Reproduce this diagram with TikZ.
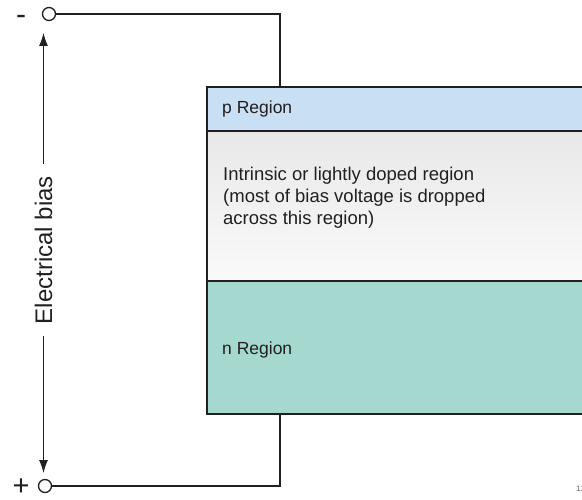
\documentclass[tikz,border=0pt]{standalone}
\usepackage{fontspec}
\setmainfont{Liberation Sans}
\usetikzlibrary{arrows.meta}
\definecolor{pblue}{HTML}{C9DFF3}
\definecolor{nteal}{HTML}{A5D9D0}
\definecolor{ink}{HTML}{231F20}
\begin{document}
\begin{tikzpicture}[x=1pt,y=-1pt,>={Latex[length=13pt,width=9pt]},
  region/.style={draw=ink,line width=2pt,anchor=north west,minimum width=420pt,inner sep=0pt},
  term/.style={circle,draw=ink,line width=1.3pt,minimum size=13pt,inner sep=0pt,fill=white},
  wire/.style={draw=ink,line width=1.6pt},
  lbl/.style={text=ink,font=\fontsize{17.5}{22}\selectfont,anchor=west,align=left,inner sep=0pt}]
\useasboundingbox (0,0) rectangle (582,500);
\clip (0,0) rectangle (582,500);
% device layers
\node[region,fill=pblue,minimum height=44pt] (preg) at (206,86) {};
\node[region,top color=black!9,bottom color=black!2,minimum height=150pt] (ireg) at (206,130) {};
\node[region,fill=nteal,minimum height=133pt] (nreg) at (206,280) {};
\node[lbl] (ptext) at (222,109) {p Region};
\node[lbl,font=\fontsize{18.5}{22}\selectfont] (itext) at (223,198) {Intrinsic or lightly doped region\\(most of bias voltage is dropped\\across this region)};
\node[lbl] (ntext) at (222,350) {n Region};
% terminals and wires
\node[term] (tneg) at (49,14) {};
\node[term] (tpos) at (45,486) {};
\node[text=ink,font=\fontsize{30}{30}\selectfont] (minus) at (21,20) {-};
\node[text=ink,font=\fontsize{29}{29}\selectfont] (plus) at (21,487) {+};
\coordinate (ctop) at (280,86); \coordinate (cbot) at (280,413);
\draw[wire] (tneg.east) -| (ctop);
\draw[wire] (tpos.east) -| (cbot);
% bias arrow
\node[rotate=90,text=ink,font=\fontsize{24}{28}\selectfont,inner xsep=12pt] (bias) at (43.5,250) {Electrical bias};
\coordinate (atop) at (43.5,33); \coordinate (abot) at (43.5,473);
\draw[->,ink,line width=1pt] (bias.east) -- (atop);
\draw[->,ink,line width=1pt] (bias.west) -- (abot);
\node[text=black!60,font=\fontsize{8}{8}\selectfont,anchor=west,inner sep=0pt] (fignum) at (576,489) {11};
\end{tikzpicture}
\end{document}
